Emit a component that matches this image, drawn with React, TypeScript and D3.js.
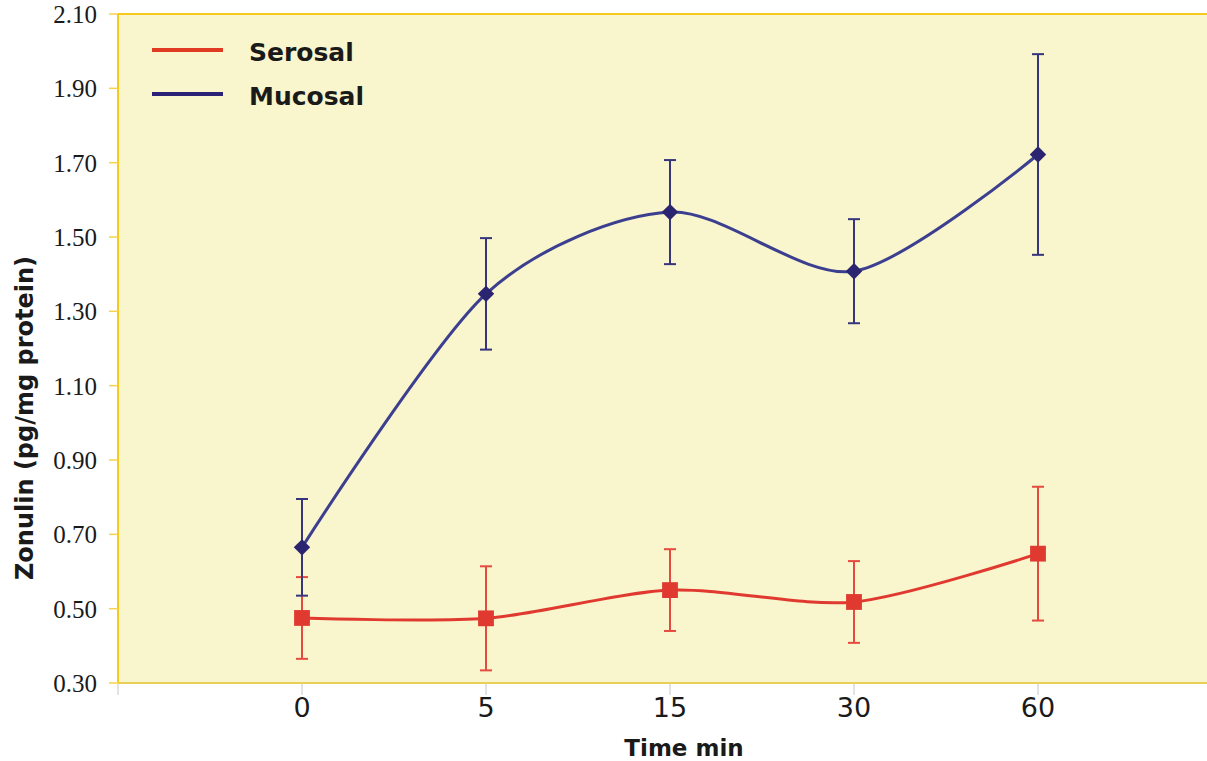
import React, { useEffect, useRef } from "react";
import * as d3 from "d3";

const times = ["0", "5", "15", "30", "60"];
const mucosal = [0.665, 1.347, 1.567, 1.408, 1.722];
const mucosalErr = [0.13, 0.15, 0.14, 0.14, 0.27];
const serosal = [0.475, 0.474, 0.55, 0.518, 0.648];
const serosalErr = [0.11, 0.14, 0.11, 0.11, 0.18];
const yTicks = [0.3, 0.5, 0.7, 0.9, 1.1, 1.3, 1.5, 1.7, 1.9, 2.1];

const W = 1207;
const H = 761;

export default function App() {
  const svgRef = useRef<SVGSVGElement>(null);

  useEffect(() => {
    const svg = d3.select(svgRef.current);
    svg.selectAll("*").remove();

    const left = 118;
    const top = 14;
    const bottom = 683;
    const step = 184;

    // slot 0 is empty on the left, the five times follow
    const slots = ["_l", ...times, "_r"];
    const x = d3.scalePoint<string>().domain(slots).range([left, left + step * 6]);
    const y = d3.scaleLinear().domain([0.3, 2.1]).range([bottom, top]);

    // --- PLOT BACKGROUND ---
    svg
      .append("rect")
      .attr("x", left)
      .attr("y", top)
      .attr("width", W - left)
      .attr("height", bottom - top)
      .attr("fill", "#f9f5cc");

    svg
      .append("line")
      .attr("x1", left)
      .attr("x2", W)
      .attr("y1", top)
      .attr("y2", top)
      .attr("stroke", "#f7c81e")
      .attr("stroke-width", 2);

    svg
      .append("line")
      .attr("x1", left)
      .attr("x2", W)
      .attr("y1", bottom)
      .attr("y2", bottom)
      .attr("stroke", "#e9cf55")
      .attr("stroke-width", 2);

    svg
      .append("line")
      .attr("x1", left)
      .attr("x2", left)
      .attr("y1", top)
      .attr("y2", bottom)
      .attr("stroke", "#f7c81e")
      .attr("stroke-width", 2);

    // --- Y AXIS ---
    const yg = svg.append("g");
    yg.selectAll("line")
      .data(yTicks)
      .join("line")
      .attr("x1", left - 9)
      .attr("x2", left)
      .attr("y1", (d) => y(d))
      .attr("y2", (d) => y(d))
      .attr("stroke", "#f7d24a")
      .attr("stroke-width", 1.5);
    yg.selectAll("text")
      .data(yTicks)
      .join("text")
      .attr("x", 97)
      .attr("y", (d) => y(d) + 9)
      .attr("text-anchor", "end")
      .style("font-family", "'Liberation Serif', 'Times New Roman', serif")
      .style("font-size", "25px")
      .style("fill", "#1a1a1a")
      .text((d) => d.toFixed(2));

    // --- X AXIS ---
    const xg = svg.append("g");
    xg.selectAll("line")
      .data(slots.slice(0, 6))
      .join("line")
      .attr("x1", (d) => x(d)!)
      .attr("x2", (d) => x(d)!)
      .attr("y1", bottom + 1)
      .attr("y2", bottom + 12)
      .attr("stroke", "#d8d8d8")
      .attr("stroke-width", 1.5);
    xg.selectAll("text")
      .data(times)
      .join("text")
      .attr("x", (d) => x(d)!)
      .attr("y", 717)
      .attr("text-anchor", "middle")
      .style("font-family", "'DejaVu Sans', Verdana, sans-serif")
      .style("font-size", "27px")
      .style("fill", "#1a1a1a")
      .text((d) => d);

    svg
      .append("text")
      .attr("x", 684)
      .attr("y", 756)
      .attr("text-anchor", "middle")
      .style("font-family", "'DejaVu Sans', Verdana, sans-serif")
      .style("font-weight", "bold")
      .style("font-size", "23px")
      .style("fill", "#1a1a1a")
      .text("Time min");

    svg
      .append("text")
      .attr("transform", "translate(33,418) rotate(-90)")
      .attr("text-anchor", "middle")
      .style("font-family", "'DejaVu Sans', Verdana, sans-serif")
      .style("font-weight", "bold")
      .style("font-size", "24px")
      .style("fill", "#1a1a1a")
      .text("Zonulin (pg/mg protein)");

    // --- SERIES ---
    const series = [
      { vals: serosal, err: serosalErr, line: "#e03a30", mark: "#e03a30", bar: "#e64a40", rot: 0, size: 250 },
      { vals: mucosal, err: mucosalErr, line: "#3c3f90", mark: "#2b2470", bar: "#38357f", rot: 45, size: 135 },
    ];

    series.forEach((s) => {
      const pts = times.map((t, i) => ({ t, v: s.vals[i], e: s.err[i] }));

      const eb = svg.append("g").attr("stroke", s.bar).attr("stroke-width", 2);
      eb.selectAll("line.v")
        .data(pts)
        .join("line")
        .attr("x1", (d) => x(d.t)!)
        .attr("x2", (d) => x(d.t)!)
        .attr("y1", (d) => y(d.v + d.e))
        .attr("y2", (d) => y(d.v - d.e));
      [1, -1].forEach((sgn) => {
        eb.append("g")
          .selectAll("line")
          .data(pts)
          .join("line")
          .attr("x1", (d) => x(d.t)! - 6)
          .attr("x2", (d) => x(d.t)! + 6)
          .attr("y1", (d) => y(d.v + sgn * d.e))
          .attr("y2", (d) => y(d.v + sgn * d.e));
      });

      const line = d3
        .line<{ t: string; v: number }>()
        .x((d) => x(d.t)!)
        .y((d) => y(d.v))
        .curve(d3.curveCardinal.tension(0.15));
      svg
        .append("path")
        .datum(pts)
        .attr("d", line)
        .attr("fill", "none")
        .attr("stroke", s.line)
        .attr("stroke-width", 3);

      svg
        .append("g")
        .selectAll("path")
        .data(pts)
        .join("path")
        .attr("transform", (d) => `translate(${x(d.t)},${y(d.v)}) rotate(${s.rot})`)
        .attr("d", d3.symbol().type(d3.symbolSquare).size(s.size)())
        .attr("fill", s.mark);
    });

    // --- LEGEND ---
    const legend = [
      { name: "Serosal", color: "#e03a22" },
      { name: "Mucosal", color: "#2b2278" },
    ];
    const lg = svg
      .append("g")
      .selectAll("g")
      .data(legend)
      .join("g")
      .attr("transform", (d, i) => `translate(152,${50 + i * 44})`);
    lg.append("line")
      .attr("x1", 0)
      .attr("x2", 71)
      .attr("stroke", (d) => d.color)
      .attr("stroke-width", 4);
    lg.append("text")
      .attr("x", 97)
      .attr("y", 11)
      .style("font-family", "'DejaVu Sans', Verdana, sans-serif")
      .style("font-weight", "bold")
      .style("font-size", "25px")
      .style("fill", "#1a1a1a")
      .text((d) => d.name);
  }, []);

  return (
    <svg
      ref={svgRef}
      width={W}
      height={H}
      style={{ position: "fixed", left: 0, top: 0, background: "#fff" }}
    ></svg>
  );
}
